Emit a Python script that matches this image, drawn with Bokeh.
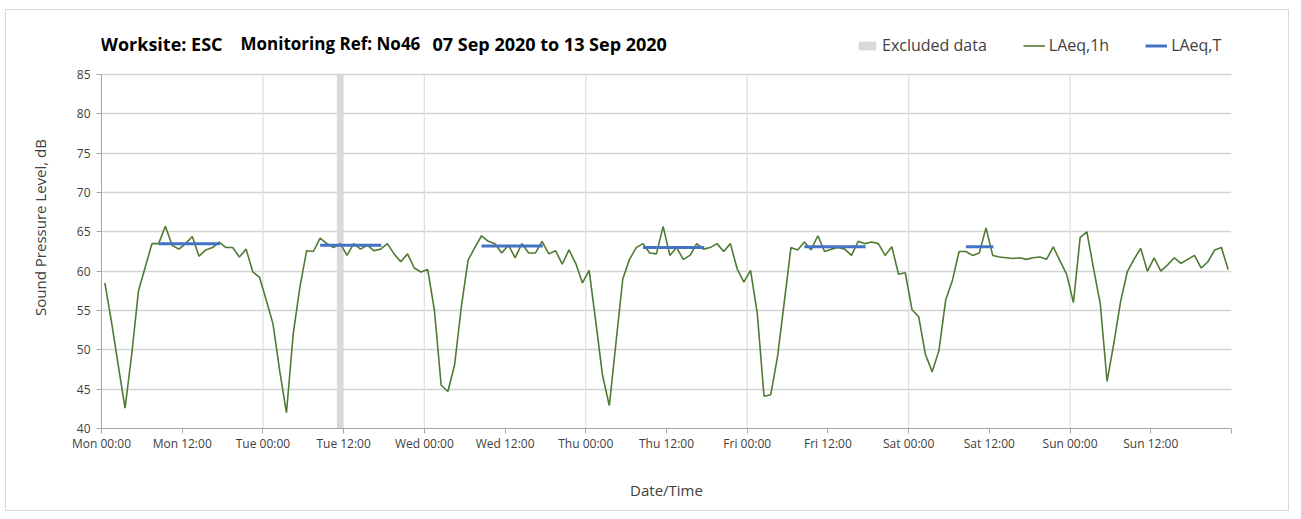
import numpy as np
from bokeh.plotting import figure
from bokeh.models import (FixedTicker, Range1d, Legend, LegendItem, Label,
                          ColumnDataSource)
from bokeh.embed import file_html
from bokeh.resources import INLINE

# ---------------- data ----------------
day_names = ["Mon", "Tue", "Wed", "Thu", "Fri", "Sat", "Sun"]

laeq_mon = [58.5, 53.5, 48.0, 42.6, 49.5, 57.5, 60.5, 63.5, 63.5, 65.7, 63.3, 62.8,
            63.5, 64.4, 61.9, 62.7, 63.0, 63.7, 63.0, 63.0, 61.8, 62.8, 59.9, 59.2]
laeq_tue = [56.3, 53.3, 47.3, 42.0, 52.0, 58.0, 62.6, 62.5, 64.2, 63.5, 63.0, 63.5,
            62.0, 63.5, 62.8, 63.3, 62.6, 62.8, 63.5, 62.2, 61.2, 62.2, 60.4, 59.9]
laeq_wed = [60.2, 55.0, 45.5, 44.7, 48.1, 55.5, 61.4, 63.0, 64.5, 63.8, 63.5, 62.3,
            63.3, 61.7, 63.5, 62.3, 62.3, 63.8, 62.2, 62.6, 60.9, 62.7, 61.0, 58.5]
laeq_thu = [60.1, 53.5, 46.7, 42.9, 51.0, 59.0, 61.5, 63.0, 63.5, 62.3, 62.2, 65.7,
            62.0, 63.0, 61.5, 62.0, 63.5, 62.8, 63.0, 63.5, 62.5, 63.5, 60.3, 58.6]
laeq_fri = [60.1, 54.6, 44.1, 44.3, 49.1, 56.0, 63.0, 62.7, 63.7, 62.7, 64.5, 62.5,
            62.8, 63.0, 62.8, 62.0, 63.8, 63.5, 63.7, 63.5, 62.0, 63.1, 59.6, 59.8]
laeq_sat = [55.1, 54.2, 49.4, 47.2, 49.9, 56.3, 58.8, 62.5, 62.5, 62.0, 62.3, 65.5,
            62.0, 61.8, 61.7, 61.6, 61.7, 61.5, 61.7, 61.8, 61.5, 63.1, 61.3, 59.6]
laeq_sun = [56.0, 64.3, 65.0, 60.3, 55.8, 46.0, 50.8, 56.1, 59.9, 61.5, 62.9, 60.0,
            61.7, 60.0, 60.8, 61.7, 61.0, 61.5, 62.0, 60.4, 61.2, 62.7, 63.0, 60.2]

# LAeq,T periods (hour of week, start / end) and levels
laeqT_start = [8, 32, 56, 80, 104, 128]
laeqT_end = [18, 42, 66, 90, 114, 133]
laeqT_level = [63.5, 63.3, 63.2, 63.0, 63.1, 63.1]

# excluded data period (hour of week)
excluded_start = [35]
excluded_end = [36]

# axis extents
y_min, y_max = 40, 85
week_hours = 168
tick_hours = list(range(0, week_hours + 1, 12))
tick_labels = [f"{day_names[h // 24]} {h % 24:02d}:00" if h < week_hours else "" for h in tick_hours]
day_bounds = list(range(24, week_hours, 24))

# ---------------- build ----------------
laeq_1h = laeq_mon + laeq_tue + laeq_wed + laeq_thu + laeq_fri + laeq_sat + laeq_sun
hour_mid = np.arange(len(laeq_1h)) + 0.5
src = ColumnDataSource(dict(x=hour_mid, y=laeq_1h))

FONT = "Open Sans"
TXT = "#404040"

# the frame reaches up to the title row so the title/legend are not clipped
px_per_db = 354 / (y_max - y_min)
frame_h = 402
y_top = y_min + frame_h / px_per_db

p = figure(width=1284, height=502, output_backend="svg", toolbar_location=None,
           x_range=Range1d(0, week_hours), y_range=Range1d(y_min, y_top),
           min_border_left=95, min_border_right=59, min_border_top=16, min_border_bottom=84)
p.styles = {"border": "1px solid #d9d9d9", "margin-left": "5px", "margin-top": "9px"}
p.outline_line_color = None
p.background_fill_color = "white"

# grids
p.ygrid.grid_line_color = "#d4d4d4"
p.ygrid.grid_line_width = 1.3
p.ygrid.ticker = FixedTicker(ticks=list(range(y_min + 5, y_max + 1, 5)))
p.xgrid.visible = False
p.segment(x0=day_bounds, y0=[y_min] * len(day_bounds), x1=day_bounds,
          y1=[y_max] * len(day_bounds), line_color="#e0e0e0", line_width=1.3)

band = p.quad(left=excluded_start, right=excluded_end, bottom=[y_min], top=[y_max],
              fill_color="#d9d9d9", line_color=None)
green = p.line("x", "y", source=src, line_color="#4f7a32", line_width=1.6)
xs = [[s + 0.5, e - 0.4] for s, e in zip(laeqT_start, laeqT_end)]
ys = [[v, v] for v in laeqT_level]
blue = p.multi_line(xs, ys, line_color="#4472c4", line_width=3)

# axes
p.xaxis.ticker = FixedTicker(ticks=tick_hours)
p.xaxis.major_label_overrides = {h: l for h, l in zip(tick_hours, tick_labels)}
p.xaxis.minor_tick_line_color = None
p.yaxis.ticker = FixedTicker(ticks=list(range(y_min, y_max + 1, 5)))
p.yaxis.bounds = (y_min, y_max)
p.yaxis.minor_tick_line_color = None
for ax in (p.xaxis[0], p.yaxis[0]):
    ax.axis_line_color = "#a6a6a6"
    ax.major_tick_line_color = "#a6a6a6"
    ax.major_tick_in = 0
    ax.major_tick_out = 5
    ax.major_label_text_font = FONT
    ax.major_label_text_font_size = "12px"
    ax.major_label_text_color = TXT
    ax.axis_label_text_font = FONT
    ax.axis_label_text_font_size = "15px"
    ax.axis_label_text_font_style = "normal"
    ax.axis_label_text_color = TXT
p.xaxis.axis_label = "Date/Time"
p.yaxis.axis_label = "Sound Pressure Level, dB"
p.xaxis.major_label_standoff = 1
p.xaxis.axis_label_standoff = 25
p.yaxis.major_label_standoff = 6
p.yaxis.axis_label_standoff = 24

# title pieces (screen units from the frame's bottom-left)
for tx, t, fs in [(-1, "Worksite: ESC", "18px"), (139, "Monitoring Ref: No46", "17px"),
                  (331, "07 Sep 2020 to 13 Sep 2020", "18px")]:
    p.add_layout(Label(x=tx, y=385, x_units="screen", y_units="screen", text=t,
                       text_font=FONT, text_font_size=fs, text_font_style="bold",
                       text_color="#000000", text_baseline="middle"))

legend = Legend(items=[LegendItem(label="Excluded data", renderers=[band]),
                       LegendItem(label="LAeq,1h", renderers=[green]),
                       LegendItem(label="LAeq,T", renderers=[blue])],
                orientation="horizontal", location=(755, 372),
                label_text_font=FONT, label_text_font_size="16px", label_text_color=TXT,
                glyph_width=22, glyph_height=11, label_standoff=4, spacing=36,
                padding=0, margin=0, border_line_color=None, background_fill_alpha=0)
p.add_layout(legend, "center")

open("out.html", "w").write(file_html(p, INLINE))
